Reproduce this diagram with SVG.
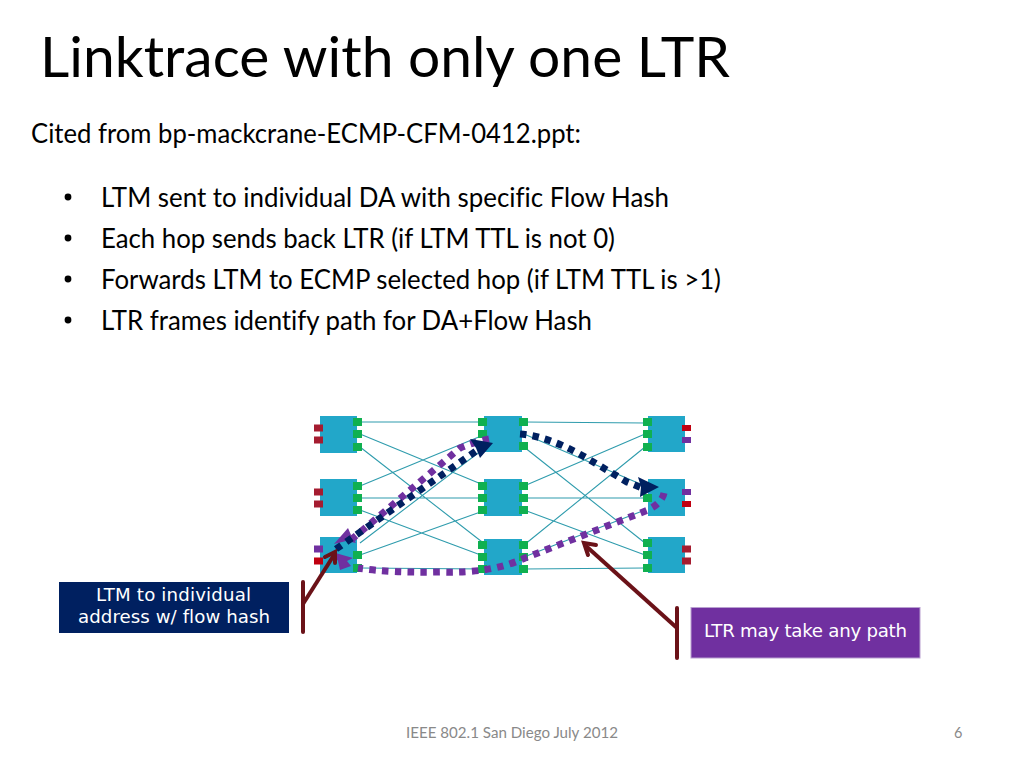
<svg xmlns="http://www.w3.org/2000/svg" width="1024" height="768" viewBox="0 0 1024 768">
<defs>
<style>
text{font-family:"Lato","Open Sans",sans-serif;fill:#000;font-variant-ligatures:none}
.body{font-size:26px}
.foot{font-size:14.5px;fill:#898989}
.lab{font-family:"DejaVu Sans",sans-serif;font-size:18.2px;fill:#fff}
.n{fill:#22a7c9}
.g{fill:#10b050}
.r{fill:#a51c30}
.rr{fill:#c00010}
.p{fill:#7030a0}
.w{stroke:#2f9cad;stroke-width:1.1;fill:none}
.nd{fill:none;stroke:#002060;stroke-width:7;stroke-dasharray:6.5 6.1}
.pd{fill:none;stroke:#7030a0;stroke-width:7;stroke-dasharray:6.5 6.3}
.c{fill:none;stroke:#6b1218;stroke-width:4}
.cb{fill:none;stroke:#6b1218;stroke-width:4;stroke-linecap:round}
</style>
</defs>
<text id="title" x="40" y="77" font-size="56" textLength="690" lengthAdjust="spacingAndGlyphs">Linktrace with only one LTR</text>
<g id="body">
<text class="body" x="31" y="143" textLength="550" lengthAdjust="spacingAndGlyphs">Cited from bp-mackcrane-ECMP-CFM-0412.ppt:</text>
<circle cx="68" cy="197" r="3.4"/><text class="body" x="101" y="207" textLength="568" lengthAdjust="spacingAndGlyphs">LTM sent to individual DA with specific Flow Hash</text>
<circle cx="68" cy="238" r="3.4"/><text class="body" x="101" y="248" textLength="514" lengthAdjust="spacingAndGlyphs">Each hop sends back LTR (if LTM TTL is not 0)</text>
<circle cx="68" cy="279" r="3.4"/><text class="body" x="101" y="289" textLength="620" lengthAdjust="spacingAndGlyphs">Forwards LTM to ECMP selected hop (if LTM TTL is &gt;1)</text>
<circle cx="68" cy="320" r="3.4"/><text class="body" x="101" y="330" textLength="491" lengthAdjust="spacingAndGlyphs">LTR frames identify path for DA+Flow Hash</text>
</g>
<g id="wires" class="w">
<path d="M360 422H486M360 434L486 486M360 447L486 545M360 486L486 434M360 498H486M360 510L486 557M360 543L486 447M360 555L486 510M360 568L486 569"/>
<path d="M524 422L645 423M524 434L645 486M524 447L645 543M524 486L645 434M524 498H645M524 510L645 555M524 545L645 447M524 557L645 510M524 569L645 568"/>
</g>
<g id="n11"><rect class="n" x="320" y="416" width="37" height="37"/><rect class="g" x="353" y="418" width="9" height="8"/><rect class="g" x="353" y="430" width="9" height="8"/><rect class="g" x="353" y="443" width="9" height="8"/><rect class="r" x="314" y="424.500" width="9" height="7"/><rect class="r" x="314" y="436.500" width="9" height="7"/></g>
<g id="n21"><rect class="n" x="320" y="479" width="37" height="37"/><rect class="g" x="353" y="482" width="9" height="8"/><rect class="g" x="353" y="494" width="9" height="8"/><rect class="g" x="353" y="506" width="9" height="8"/><rect class="r" x="314" y="488.500" width="9" height="7"/><rect class="r" x="314" y="500.500" width="9" height="7"/></g>
<g id="n31"><rect class="n" x="320" y="537" width="37" height="36"/><rect class="g" x="353" y="551" width="9" height="8"/><rect class="g" x="353" y="564" width="9" height="8"/><rect class="p" x="314" y="545.500" width="9" height="7"/><rect class="rr" x="314" y="557.500" width="9" height="7"/></g>
<g id="n12"><rect class="n" x="484" y="416" width="38" height="36"/><rect class="g" x="478" y="418" width="9" height="8"/><rect class="g" x="478" y="430" width="9" height="8"/><rect class="g" x="519" y="418" width="9" height="8"/><rect class="g" x="519" y="442" width="9" height="8"/></g>
<g id="n22"><rect class="n" x="484" y="479" width="38" height="37"/><rect class="g" x="478" y="482" width="9" height="8"/><rect class="g" x="478" y="494" width="9" height="8"/><rect class="g" x="478" y="506" width="9" height="8"/><rect class="g" x="519" y="482" width="9" height="8"/><rect class="g" x="519" y="494" width="9" height="8"/><rect class="g" x="519" y="506" width="9" height="8"/></g>
<g id="n32"><rect class="n" x="484" y="539" width="38" height="36"/><rect class="g" x="478" y="541" width="9" height="8"/><rect class="g" x="478" y="553" width="9" height="8"/><rect class="g" x="478" y="565" width="9" height="8"/><rect class="g" x="519" y="541" width="9" height="8"/><rect class="g" x="519" y="553" width="9" height="8"/><rect class="g" x="519" y="565" width="9" height="8"/></g>
<g id="n13"><rect class="n" x="648" y="416" width="37" height="36"/><rect class="g" x="643" y="418" width="9" height="8"/><rect class="g" x="643" y="430" width="9" height="8"/><rect class="g" x="643" y="443" width="9" height="8"/><rect class="rr" x="682" y="425" width="9" height="6"/><rect class="p" x="682" y="437" width="9" height="6"/></g>
<g id="n23"><rect class="n" x="648" y="479" width="37" height="37"/><rect class="g" x="643" y="494" width="9" height="8"/><rect class="p" x="682" y="489" width="9" height="6"/><rect class="rr" x="682" y="501" width="9" height="6"/></g>
<g id="n33"><rect class="n" x="648" y="537" width="37" height="36"/><rect class="g" x="643" y="539" width="9" height="8"/><rect class="g" x="643" y="551" width="9" height="8"/><rect class="g" x="643" y="564" width="9" height="8"/><rect class="r" x="682" y="545.500" width="9" height="7"/><rect class="r" x="682" y="557.500" width="9" height="7"/></g>
<g id="connectors">
<path class="pd" d="M489 439Q474 442 460 448L352 539"/>
<polygon class="p" points="334,544 348,528 351,535 356,543 346,541"/>
<path class="pd" d="M664 493Q662 503 648 510L525 558Q490 574 440 572Q390 573 358 568"/>
<polygon class="p" points="332,552 353,558 347,561 351,566 340,570 338,561"/>
<path class="nd" d="M336 549L476 451"/>
<polygon points="493,443 480,458 476,448 470,439 482,441" fill="#002060"/>
<path class="nd" d="M520 434C545 436 570 448 590 460L627 482L642 488"/>
<polygon points="659,487 640,497 641,487 638,477" fill="#002060"/>
<path class="c" d="M303 604L334 555"/>
<path class="cb" d="M325 557L335 552L335 563"/>
<path class="cb" d="M303 582V632"/>
<path class="c" d="M677 628L586 546"/>
<path class="cb" d="M596 545L584 543L588 555"/>
<path class="cb" d="M677 608V658"/>
</g>
<g id="ltm"><rect x="59" y="582" width="230" height="51" fill="#002060"/><text class="lab" x="96" y="601" textLength="155" lengthAdjust="spacing">LTM to individual</text><text class="lab" x="78" y="623" textLength="192" lengthAdjust="spacing">address w/ flow hash</text></g>
<g id="ltr"><rect x="691" y="607.500" width="229" height="50.500" fill="#7030a0" stroke="#b9a0d0" stroke-width="1"/><text class="lab" x="704" y="637" textLength="203" lengthAdjust="spacing">LTR may take any path</text></g>
<text class="foot" x="406" y="738" textLength="212" lengthAdjust="spacingAndGlyphs">IEEE 802.1 San Diego July 2012</text>
<text class="foot" x="954" y="738">6</text>
</svg>
